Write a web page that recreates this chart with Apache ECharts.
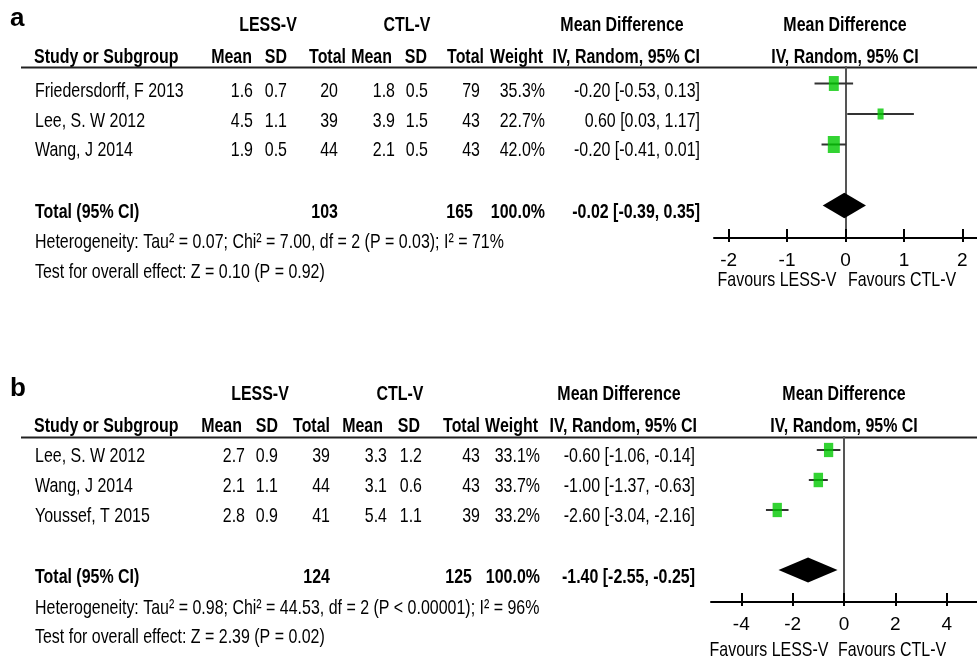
<!DOCTYPE html>
<html><head><meta charset="utf-8">
<script src="https://cdn.jsdelivr.net/npm/echarts@6/dist/echarts.min.js"></script>
<style>html,body{margin:0;padding:0;background:#fff}#c{width:977px;height:660px}</style>
</head><body><div id="c"></div>
<script>
// ---------- DATA ----------
// Panel a
const studiesA = ['Friedersdorff, F 2013', 'Lee, S. W 2012', 'Wang, J 2014'];
const lessMeanA = [1.6, 4.5, 1.9];
const lessSdA = [0.7, 1.1, 0.5];
const lessNA = [20, 39, 44];
const ctlMeanA = [1.8, 3.9, 2.1];
const ctlSdA = [0.5, 1.5, 0.5];
const ctlNA = [79, 43, 43];
const weightA = [35.3, 22.7, 42.0];
const mdA = [-0.20, 0.60, -0.20];
const loA = [-0.53, 0.03, -0.41];
const hiA = [0.13, 1.17, 0.01];
const totalNA = [103, 165];
const totalMdA = [-0.02, -0.39, 0.35]; // estimate, lower, upper
const hetA = 'Heterogeneity: Tau\u00b2 = 0.07; Chi\u00b2 = 7.00, df = 2 (P = 0.03); I\u00b2 = 71%';
const testA = 'Test for overall effect: Z = 0.10 (P = 0.92)';
const ticksA = [-2, -1, 0, 1, 2];

// Panel b
const studiesB = ['Lee, S. W 2012', 'Wang, J 2014', 'Youssef, T 2015'];
const lessMeanB = [2.7, 2.1, 2.8];
const lessSdB = [0.9, 1.1, 0.9];
const lessNB = [39, 44, 41];
const ctlMeanB = [3.3, 3.1, 5.4];
const ctlSdB = [1.2, 0.6, 1.1];
const ctlNB = [43, 43, 39];
const weightB = [33.1, 33.7, 33.2];
const mdB = [-0.60, -1.00, -2.60];
const loB = [-1.06, -1.37, -3.04];
const hiB = [-0.14, -0.63, -2.16];
const totalNB = [124, 125];
const totalMdB = [-1.40, -2.55, -0.25];
const hetB = 'Heterogeneity: Tau\u00b2 = 0.98; Chi\u00b2 = 44.53, df = 2 (P < 0.00001); I\u00b2 = 96%';
const testB = 'Test for overall effect: Z = 2.39 (P = 0.02)';
const ticksB = [-4, -2, 0, 2, 4];

// ---------- LAYOUT ----------
const FONT = '"Liberation Sans", Arial, sans-serif';
const FS = 21;
const SX = 0.76;

const panels = [
  {
    label: 'a', studies: studiesA, lm: lessMeanA, ls: lessSdA, ln: lessNA, cm: ctlMeanA, cs: ctlSdA, cn: ctlNA,
    w: weightA, md: mdA, lo: loA, hi: hiA, tn: totalNA, tmd: totalMdA, het: hetA, test: testA, ticks: ticksA,
    L: { yLab: 19, yH1: 25, yH2: 57, yRule: 67.5, rows: [91, 121, 150], yTot: 212, yHet: 242, yTest: 272, yFav: 280,
      hdrR: [252, 287, 346, 392, 427, 484, 543, 700], colR: [253, 287, 338, 395, 428, 480, 545, 700],
      totNR: [338, 473], lessC: 268, ctlC: 407, mdC: 622, plotC: 845, favL: 777, favR: 902,
      grid: { left: 714, top: 67, width: 263, height: 171 }, xr: [-2.25, 2.25], yr: [0.459, 6.066] }
  },
  {
    label: 'b', studies: studiesB, lm: lessMeanB, ls: lessSdB, ln: lessNB, cm: ctlMeanB, cs: ctlSdB, cn: ctlNB,
    w: weightB, md: mdB, lo: loB, hi: hiB, tn: totalNB, tmd: totalMdB, het: hetB, test: testB, ticks: ticksB,
    L: { yLab: 389, yH1: 394, yH2: 426, yRule: 437.5, rows: [456, 486, 516], yTot: 577, yHet: 608, yTest: 637, yFav: 650,
      hdrR: [242, 278, 330, 383, 420, 480, 538, 697], colR: [245, 278, 330, 387, 422, 480, 540, 695],
      totNR: [330, 472], lessC: 260, ctlC: 400, mdC: 619, plotC: 844, favL: 769, favR: 892,
      grid: { left: 711, top: 437, width: 266, height: 165 }, xr: [-5.18, 5.18], yr: [0.567, 6.067] }
  }
];

function txt(x, y, s, align, bold, size, sx) {
  return { type: 'text', x: x, y: y, silent: true, scaleX: sx == null ? SX : sx, scaleY: 1,
    style: { text: s, fill: '#000', align: align || 'left', verticalAlign: 'middle',
      fontSize: size || FS, fontWeight: bold ? 'bold' : 'normal', fontFamily: FONT } };
}
const f1 = v => v.toFixed(1);
const f2 = v => v.toFixed(2);
const ci = (m, l, h) => f2(m) + ' [' + f2(l) + ', ' + f2(h) + ']';

const graphics = [];
const grids = [], xAxes = [], yAxes = [], series = [];

panels.forEach((P, pi) => {
  const L = P.L;
  graphics.push(txt(10, L.yLab, P.label, 'left', true, 26, 1));
  // header row 1
  graphics.push(txt(L.lessC, L.yH1, 'LESS-V', 'center', true));
  graphics.push(txt(L.ctlC, L.yH1, 'CTL-V', 'center', true));
  graphics.push(txt(L.mdC, L.yH1, 'Mean Difference', 'center', true));
  graphics.push(txt(L.plotC, L.yH1, 'Mean Difference', 'center', true));
  // header row 2
  graphics.push(txt(34, L.yH2, 'Study or Subgroup', 'left', true));
  const hdr = ['Mean', 'SD', 'Total', 'Mean', 'SD', 'Total', 'Weight', 'IV, Random, 95% CI'];
  hdr.forEach((h, i) => graphics.push(txt(L.hdrR[i], L.yH2, h, 'right', true)));
  graphics.push(txt(L.plotC, L.yH2, 'IV, Random, 95% CI', 'center', true));
  // rule
  graphics.push({ type: 'line', silent: true, shape: { x1: 21, y1: L.yRule, x2: 977, y2: L.yRule },
    style: { stroke: '#222', lineWidth: 2 } });
  // rows
  P.studies.forEach((s, i) => {
    const y = L.rows[i];
    graphics.push(txt(35, y, s, 'left', false));
    const vals = [f1(P.lm[i]), f1(P.ls[i]), String(P.ln[i]), f1(P.cm[i]), f1(P.cs[i]), String(P.cn[i]),
      f1(P.w[i]) + '%', ci(P.md[i], P.lo[i], P.hi[i])];
    vals.forEach((v, j) => graphics.push(txt(L.colR[j], y, v, 'right', false)));
  });
  // total row
  graphics.push(txt(35, L.yTot, 'Total (95% CI)', 'left', true));
  graphics.push(txt(L.totNR[0], L.yTot, String(P.tn[0]), 'right', true));
  graphics.push(txt(L.totNR[1], L.yTot, String(P.tn[1]), 'right', true));
  graphics.push(txt(L.colR[6], L.yTot, '100.0%', 'right', true));
  graphics.push(txt(L.colR[7], L.yTot, ci(P.tmd[0], P.tmd[1], P.tmd[2]), 'right', true));
  graphics.push(txt(35, L.yHet, P.het, 'left', false));
  graphics.push(txt(35, L.yTest, P.test, 'left', false));
  graphics.push(txt(L.favL, L.yFav, 'Favours LESS-V', 'center', false));
  graphics.push(txt(L.favR, L.yFav, 'Favours CTL-V', 'center', false));

  // grid + axes
  grids.push(Object.assign({ containLabel: false }, L.grid));
  const xBase = {
    type: 'value', gridIndex: pi, min: L.xr[0], max: L.xr[1], position: 'bottom',
    splitLine: { show: false }
  };
  xAxes.push(Object.assign({}, xBase, {
    axisLine: { show: true, onZero: false, lineStyle: { color: '#000', width: 2 } },
    axisTick: { show: true, inside: true, length: 9, customValues: P.ticks, lineStyle: { color: '#000', width: 2 } },
    axisLabel: { show: true, customValues: P.ticks, margin: 13, color: '#000', fontSize: 19, fontFamily: FONT,
      formatter: v => String(v) }
  }));
  xAxes.push(Object.assign({}, xBase, {
    axisLine: { show: false, onZero: false },
    axisTick: { show: true, inside: false, length: 4, customValues: P.ticks, lineStyle: { color: '#000', width: 2 } },
    axisLabel: { show: false }
  }));
  yAxes.push({
    type: 'value', gridIndex: pi, min: L.yr[0], max: L.yr[1], inverse: true,
    axisLine: { show: true, onZero: true, lineStyle: { color: '#555', width: 2 } },
    axisTick: { show: false }, axisLabel: { show: false }, splitLine: { show: false }
  });
  const xi = pi * 2;
  // CI lines
  series.push({
    type: 'custom', xAxisIndex: xi, yAxisIndex: pi, z: 3, silent: true,
    data: P.md.map((m, i) => [P.lo[i], P.hi[i], i + 1]),
    renderItem: (params, api) => {
      const a = api.coord([api.value(0), api.value(2)]);
      const b = api.coord([api.value(1), api.value(2)]);
      return { type: 'line', shape: { x1: a[0], y1: a[1], x2: b[0], y2: b[1] },
        style: { stroke: '#333', lineWidth: 2 } };
    }
  });
  // squares
  series.push({
    type: 'scatter', xAxisIndex: xi, yAxisIndex: pi, z: 4, silent: true, symbol: 'rect',
    data: P.md.map((m, i) => [m, i + 1, P.w[i]]),
    symbolSize: v => { const w = 0.31 * v[2] - 1; return [w, w + 5]; },
    itemStyle: { color: '#00c800' }
  });
  // diamond
  series.push({
    type: 'custom', xAxisIndex: xi, yAxisIndex: pi, z: 4, silent: true,
    data: [[P.tmd[1], P.tmd[0], P.tmd[2], 5]],
    renderItem: (params, api) => {
      const r = api.value(3);
      const p1 = api.coord([api.value(0), r]);
      const p2 = api.coord([api.value(1), r - 0.42]);
      const p3 = api.coord([api.value(2), r]);
      const p4 = api.coord([api.value(1), r + 0.42]);
      return { type: 'polygon', shape: { points: [p1, p2, p3, p4] }, style: { fill: '#000' } };
    }
  });
});

const chart = echarts.init(document.getElementById('c'), null, { renderer: 'canvas' });
chart.setOption({
  animation: false,
  backgroundColor: '#fff',
  grid: grids, xAxis: xAxes, yAxis: yAxes, series: series,
  graphic: { elements: graphics }
});
</script>
</body></html>
